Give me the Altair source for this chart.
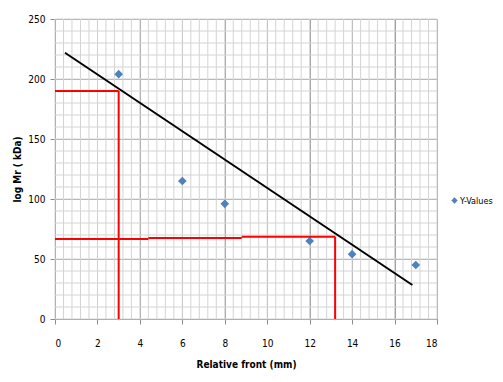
import altair as alt
import numpy as np
import pandas as pd

# data
x_vals = [3, 6, 8, 12, 14, 17]
y_vals = [204, 115, 96, 65, 54, 45]
series_name = "Y-Values"

trend_x = [0.47, 16.84]
trend_y = [221.9, 28.3]

red_x = [0, 3, 0, 4.4, 8.8, 13.2]
red_x2 = [3, 3, 4.4, 8.8, 13.2, 13.2]
red_y = [190, 190, 66.7, 67.6, 68.6, 68.6]
red_y2 = [190, 0, 66.7, 67.6, 68.6, 0]

x_ticks = list(range(0, 19, 2))
y_ticks = list(range(0, 251, 50))

FONT = "DejaVu Sans Condensed"

xs = alt.Scale(domain=[0, 18], nice=False, zero=False)
ys = alt.Scale(domain=[0, 250], nice=False, zero=False)

x_axis = alt.Axis(values=x_ticks, title="Relative front (mm)", grid=True,
                  gridColor="#a0a0a0", domainColor="#8c8c8c", tickColor="#8c8c8c",
                  tickSize=5, labelPadding=14, titlePadding=11)
y_axis = alt.Axis(values=y_ticks, title="log Mr ( kDa)", grid=True,
                  gridColor="#a0a0a0", domainColor="#8c8c8c", tickColor="#8c8c8c",
                  tickSize=5, labelPadding=5, titlePadding=5)

pts = pd.DataFrame({"x": x_vals, "y": y_vals, "s": [series_name] * len(x_vals)})
trend = pd.DataFrame({"x": trend_x, "y": trend_y})
red = pd.DataFrame({"x": red_x, "x2": red_x2, "y": red_y, "y2": red_y2})
vgrid = pd.DataFrame({"x": np.round(np.arange(0, 18.001, 0.4), 2)})
hgrid = pd.DataFrame({"y": np.arange(0, 251, 10)})

minor_v = alt.Chart(vgrid).mark_rule(color="#d4d4d4", strokeWidth=1).encode(
    x=alt.X("x:Q", scale=xs, axis=x_axis)
)
minor_h = alt.Chart(hgrid).mark_rule(color="#d4d4d4", strokeWidth=1).encode(
    y=alt.Y("y:Q", scale=ys, axis=y_axis)
)

points = alt.Chart(pts).mark_point(shape="diamond", filled=True, size=75, opacity=1).encode(
    x=alt.X("x:Q", scale=xs, axis=x_axis),
    y=alt.Y("y:Q", scale=ys, axis=y_axis),
    color=alt.Color("s:N", scale=alt.Scale(range=["#4F81BD"]),
                    legend=alt.Legend(title=None, orient="none", legendX=395, legendY=177,
                                      symbolType="diamond", symbolSize=40,
                                      labelFont=FONT, labelFontSize=9, labelColor="#000",
                                      labelOffset=1)),
)

line = alt.Chart(trend).mark_line(color="black", strokeWidth=2).encode(
    x=alt.X("x:Q", scale=xs, axis=x_axis), y=alt.Y("y:Q", scale=ys, axis=y_axis)
)

reds = alt.Chart(red).mark_rule(color="#ff0000", strokeWidth=2).encode(
    x=alt.X("x:Q", scale=xs, axis=x_axis), x2="x2:Q",
    y=alt.Y("y:Q", scale=ys, axis=y_axis), y2="y2:Q"
)

chart = alt.layer(minor_v, minor_h, points, line, reds).properties(
    width=382, height=300,
    autosize=alt.AutoSizeParams(type="none"),
    padding={"left": 47, "top": 11, "right": 58, "bottom": 53},
).configure_view(stroke=None).configure_axis(
    labelFont=FONT, labelFontSize=10, labelColor="#000",
    titleFont=FONT, titleFontSize=10, titleColor="#000", titleFontWeight="bold",
)

chart.save("out.html", embed_options={"renderer": "svg", "actions": False})
